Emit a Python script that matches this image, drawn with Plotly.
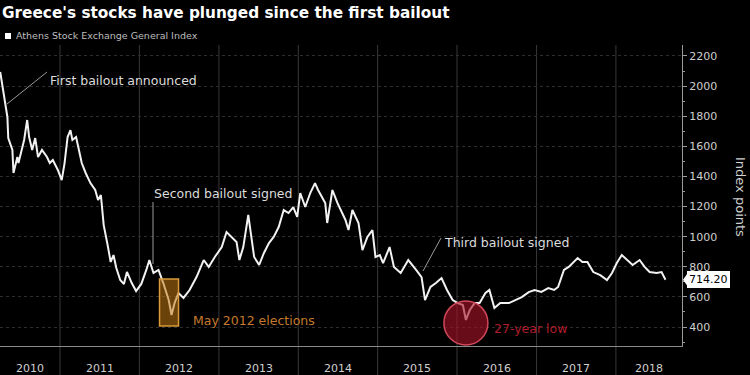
import plotly.graph_objects as go
import pandas as pd

# ---------------- data ----------------
dates_2010 = ["2010-04-01","2010-04-15","2010-04-24","2010-05-04","2010-05-08","2010-05-27","2010-06-01",
              "2010-06-19","2010-06-24","2010-07-11","2010-07-20","2010-08-03","2010-08-12","2010-08-26",
              "2010-09-09","2010-09-22","2010-10-10","2010-11-02","2010-11-15","2010-11-29","2010-12-22"]
vals_2010 = [2094,1954,1875,1795,1655,1576,1423,1529,1489,1596,1642,1775,1662,1576,1655,1529,1576,1529,1489,1509,1443]

dates_2011 = ["2011-01-09","2011-01-22","2011-02-05","2011-02-18","2011-02-27","2011-03-16","2011-03-29",
              "2011-04-11","2011-04-29","2011-05-21","2011-06-12","2011-06-25","2011-07-08","2011-07-21",
              "2011-08-08","2011-08-22","2011-09-04","2011-09-17","2011-10-05","2011-10-22","2011-11-05",
              "2011-11-27","2011-12-17"]
vals_2011 = [1376,1489,1662,1708,1642,1662,1576,1489,1423,1356,1310,1244,1277,1077,945,832,878,792,712,686,766,692,639]

dates_2012 = ["2012-01-10","2012-02-02","2012-02-16","2012-03-06","2012-03-29","2012-04-20","2012-05-15",
              "2012-05-28","2012-06-11","2012-06-29","2012-07-22","2012-08-19","2012-09-20","2012-10-23",
              "2012-11-15","2012-12-13"]
vals_2012 = [686,779,845,759,779,692,579,480,559,626,593,646,732,845,799,865]

dates_2013 = ["2013-01-14","2013-02-05","2013-02-28","2013-03-23","2013-04-05","2013-04-23","2013-05-16",
              "2013-05-29","2013-06-12","2013-07-05","2013-07-27","2013-08-19","2013-09-10","2013-10-03",
              "2013-10-26","2013-11-17","2013-12-09","2013-12-27"]
vals_2013 = [931,1031,998,965,845,931,1144,998,865,812,892,958,998,1064,1177,1157,1197,1131]

dates_2014 = ["2014-01-10","2014-02-02","2014-02-25","2014-03-19","2014-04-02","2014-05-05","2014-05-14",
              "2014-06-07","2014-06-30","2014-08-06","2014-08-20","2014-09-07","2014-10-05","2014-10-23",
              "2014-11-15","2014-12-08","2014-12-22"]
vals_2014 = [1290,1197,1290,1356,1310,1224,1091,1310,1224,1111,1044,1177,1091,911,998,1044,865]

dates_2015 = ["2015-01-11","2015-01-26","2015-02-25","2015-03-17","2015-04-17","2015-05-22","2015-06-27",
              "2015-07-22","2015-08-07","2015-09-01","2015-09-26","2015-10-22","2015-11-16","2015-12-12"]
vals_2015 = [878,825,931,799,759,845,779,732,579,666,692,725,646,579]

dates_2016 = ["2016-01-05","2016-01-28","2016-02-11","2016-02-29","2016-03-22","2016-04-14","2016-05-11",
              "2016-05-29","2016-06-21","2016-07-18","2016-08-27","2016-09-23","2016-10-25","2016-11-26",
              "2016-12-23"]
vals_2016 = [559,546,447,513,559,559,626,646,526,559,559,579,599,632,646]

dates_2017 = ["2017-01-23","2017-02-24","2017-03-23","2017-04-10","2017-05-07","2017-05-29","2017-07-09",
              "2017-07-31","2017-08-23","2017-09-19","2017-10-21","2017-11-21","2017-12-14"]
vals_2017 = [633,659,646,666,779,799,858,832,832,765,745,712,759]

dates_2018 = ["2018-01-05","2018-01-28","2018-02-20","2018-03-19","2018-04-20","2018-05-13","2018-06-05",
              "2018-07-07","2018-07-30","2018-08-17"]
vals_2018 = [825,878,845,812,845,799,765,759,765,714.20]

year_labels = ["2010","2011","2012","2013","2014","2015","2016","2017","2018"]
y_ticks = [400,600,800,1000,1200,1400,1600,1800,2000,2200]

title_text = "Greece's stocks have plunged since the first bailout"
series_name = "Athens Stock Exchange General Index"
last_value_text = "714.20"

# ---------------- figure ----------------
dates = pd.to_datetime(dates_2010 + dates_2011 + dates_2012 + dates_2013 + dates_2014 +
                       dates_2015 + dates_2016 + dates_2017 + dates_2018)
vals = vals_2010 + vals_2011 + vals_2012 + vals_2013 + vals_2014 + vals_2015 + vals_2016 + vals_2017 + vals_2018

W, H = 750, 375
ML, MR, MT, MB = 0, 68, 45, 29
PW, PH = W - ML - MR, H - MT - MB
x_min, x_max = pd.Timestamp("2010-03-31"), pd.Timestamp("2018-11-01")
y_min, y_max = 274, 2273

def px(x, y):
    return (x - ML) / PW, (H - MB - y) / PH

FONT = "DejaVu Sans, Verdana, sans-serif"
GRID = "#383838"

fig = go.Figure()
fig.add_trace(go.Scatter(x=dates, y=vals, mode="lines", name=series_name,
                         line=dict(color="#f2f2f2", width=2), hoverinfo="skip"))

shapes = []
annotations = []

# year boundary lines (extend into label band)
for yr in year_labels[1:]:
    shapes.append(dict(type="line", xref="x", yref="paper", x0=f"{yr}-01-01", x1=f"{yr}-01-01",
                       y0=-0.1, y1=1, line=dict(color=GRID, width=1), layer="below"))

# year labels centred on visible span
for yr in year_labels:
    s = max(pd.Timestamp(f"{yr}-01-01"), x_min)
    e = min(pd.Timestamp(f"{int(yr)+1}-01-01"), x_max)
    c = s + (e - s) / 2
    annotations.append(dict(text=yr, x=c, xref="x", y=px(0, 368)[1], yref="paper", showarrow=False,
                            xanchor="center", yanchor="middle",
                            font=dict(family=FONT, size=11, color="#cfcfcf")))

# title and legend
annotations.append(dict(text=f"<b>{title_text}</b>", x=px(0, 0)[0], y=px(0, 13)[1], xref="paper", yref="paper",
                        showarrow=False, xanchor="left", yanchor="middle",
                        font=dict(family=FONT, size=15.3, color="#ffffff")))
annotations.append(dict(text=series_name, x=px(14, 0)[0], y=px(0, 36)[1], xref="paper", yref="paper",
                        showarrow=False, xanchor="left", yanchor="middle",
                        font=dict(family=FONT, size=9.5, color="#bdbdbd")))
shapes.append(dict(type="rect", xref="paper", yref="paper",
                   x0=px(5, 0)[0], x1=px(11, 0)[0], y0=px(0, 39)[1], y1=px(0, 33)[1],
                   fillcolor="#ffffff", line=dict(width=0)))

# axis title
annotations.append(dict(text="Index points", x=px(741, 0)[0], y=px(0, 197)[1], xref="paper", yref="paper",
                        showarrow=False, textangle=90, xanchor="center", yanchor="middle",
                        font=dict(family=FONT, size=13, color="#cfcfcf")))

# event annotations
ANN = "#dcdcdc"
annotations.append(dict(text="First bailout announced", x=px(48, 0)[0], y=px(0, 80)[1], xref="paper", yref="paper",
                        showarrow=False, xanchor="left", yanchor="middle",
                        font=dict(family=FONT, size=12.5, color=ANN)))
shapes.append(dict(type="line", xref="paper", yref="paper", x0=px(7, 0)[0], y0=px(0, 104)[1],
                   x1=px(47, 0)[0], y1=px(0, 72)[1], line=dict(color="#9a9a9a", width=1)))

annotations.append(dict(text="Second bailout signed", x=px(152, 0)[0], y=px(0, 193)[1], xref="paper", yref="paper",
                        showarrow=False, xanchor="left", yanchor="middle",
                        font=dict(family=FONT, size=12.5, color=ANN)))
shapes.append(dict(type="line", xref="paper", yref="paper", x0=px(153, 0)[0], y0=px(0, 202)[1],
                   x1=px(153, 0)[0], y1=px(0, 264)[1], line=dict(color="#9a9a9a", width=1)))

annotations.append(dict(text="Third bailout signed", x=px(442, 0)[0], y=px(0, 242)[1], xref="paper", yref="paper",
                        showarrow=False, xanchor="left", yanchor="middle",
                        font=dict(family=FONT, size=12.5, color=ANN)))
shapes.append(dict(type="line", xref="paper", yref="paper", x0=px(441, 0)[0], y0=px(0, 238)[1],
                   x1=px(423, 0)[0], y1=px(0, 271)[1], line=dict(color="#9a9a9a", width=1)))

# May 2012 elections box, anchored to the 2012 low
i12 = vals_2012.index(min(vals_2012))
shapes.append(dict(type="rect", xref="x", yref="y", xsizemode="pixel", ysizemode="pixel",
                   xanchor=dates_2012[i12], yanchor=vals_2012[i12],
                   x0=-12, x1=7, y0=-11, y1=36,
                   fillcolor="rgba(196,120,20,0.55)", line=dict(color="#d89a3a", width=1.5)))
annotations.append(dict(text="May 2012 elections", x=px(191, 0)[0], y=px(0, 320)[1], xref="paper", yref="paper",
                        showarrow=False, xanchor="left", yanchor="middle",
                        font=dict(family=FONT, size=12.5, color="#c47a2c")))

# 27-year low circle anchored to the 2016 low
i16 = vals_2016.index(min(vals_2016))
shapes.append(dict(type="circle", xref="x", yref="y", xsizemode="pixel", ysizemode="pixel",
                   xanchor=dates_2016[i16], yanchor=vals_2016[i16],
                   x0=-22, x1=22, y0=-25, y1=19,
                   fillcolor="rgba(170,20,40,0.62)", line=dict(color="#d0485a", width=1.5)))
annotations.append(dict(text="27-year low", x=px(492, 0)[0], y=px(0, 328)[1], xref="paper", yref="paper",
                        showarrow=False, xanchor="left", yanchor="middle",
                        font=dict(family=FONT, size=12.5, color="#b01c2a")))

# last value tag with a small pointer
annotations.append(dict(text=last_value_text, x=px(687, 0)[0], y=vals_2018[-1], xref="paper", yref="y",
                        showarrow=False, xanchor="left", yanchor="middle", bgcolor="#ffffff",
                        bordercolor="#ffffff", borderpad=1,
                        font=dict(family=FONT, size=11, color="#000000")))
shapes.append(dict(type="path", xref="paper", yref="y", xsizemode="pixel", ysizemode="pixel",
                   xanchor=1, yanchor=vals_2018[-1],
                   path="M 1 0 L 6 7 L 6 -7 Z", fillcolor="#ffffff", line=dict(width=0)))

fig.update_layout(
    width=W, height=H,
    margin=dict(l=ML, r=MR, t=MT, b=MB, pad=0),
    paper_bgcolor="#000000", plot_bgcolor="#000000",
    showlegend=False,
    shapes=shapes, annotations=annotations,
    xaxis=dict(type="date", range=[x_min, x_max], showgrid=False, zeroline=False,
               showticklabels=False, ticks="", showline=True, linecolor="#8a8a8a", linewidth=1),
    yaxis=dict(range=[y_min, y_max], side="right", tickvals=y_ticks, showgrid=True,
               gridcolor="#2e2e2e", griddash="dot", gridwidth=1, zeroline=False,
               showline=True, linecolor="#9a9a9a", linewidth=1,
               ticks="outside", ticklen=4, tickcolor="#9a9a9a",
               minor=dict(dtick=100, ticks="outside", ticklen=2, tickcolor="#9a9a9a"),
               tickfont=dict(family=FONT, size=11, color="#cfcfcf")),
)

fig.write_html("out.html", config={"displayModeBar": False},
               post_script="document.body.style.margin='0px';document.body.style.background='#000';")
